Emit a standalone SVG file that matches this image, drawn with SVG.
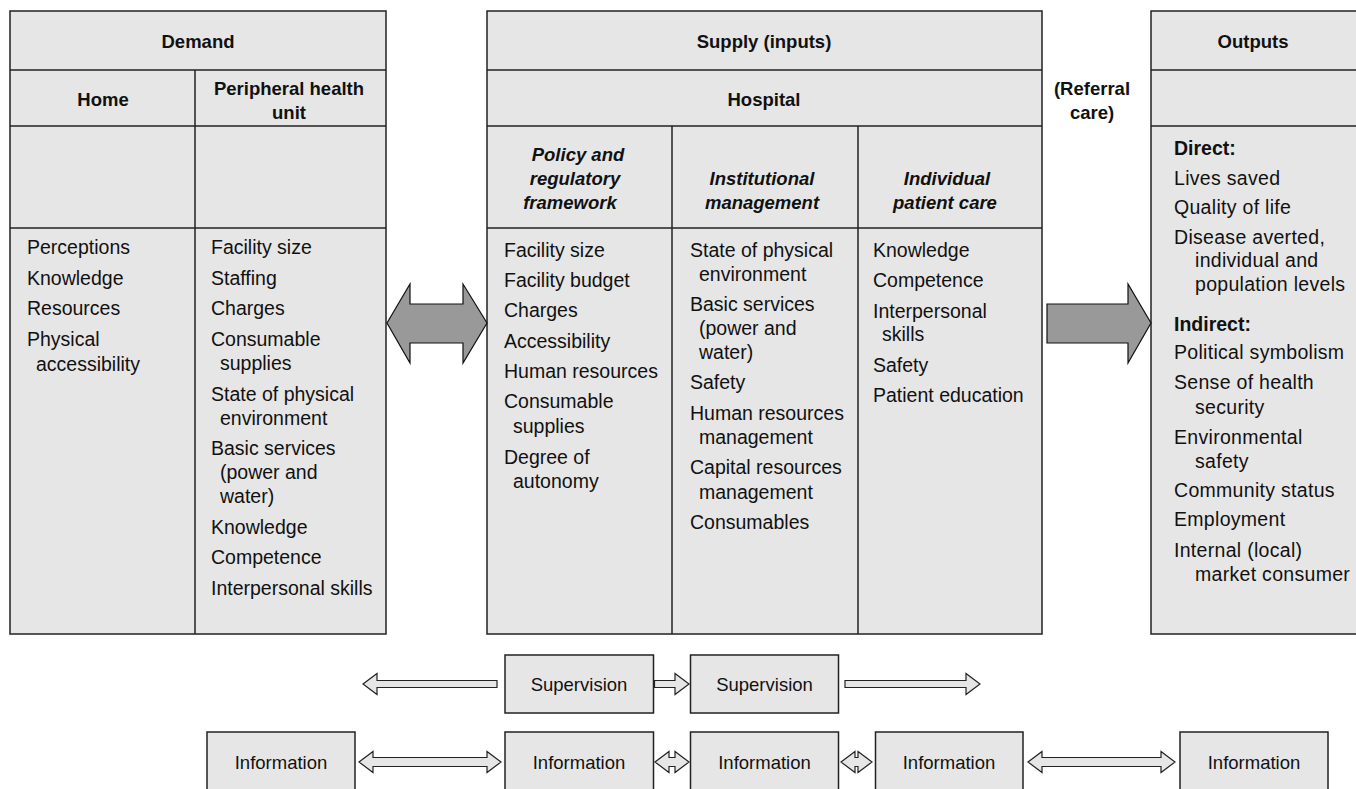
<svg xmlns="http://www.w3.org/2000/svg" width="1356" height="789" viewBox="0 0 1356 789">
<style>
text{font-family:"Liberation Sans",Arial,sans-serif;fill:#111}
.box{fill:#e6e6e6;stroke:#222;stroke-width:1.5}
.ln{stroke:#222;stroke-width:1.5;fill:none}
.h{font-size:18.5px;font-weight:bold;text-anchor:middle}
.hi{font-size:18.5px;font-weight:bold;font-style:italic;text-anchor:middle}
.t{font-size:19.5px}
.o{font-size:19.5px;letter-spacing:0.3px}
.ob{font-size:19.5px;font-weight:bold}
.c{font-size:18.5px;text-anchor:middle}
.big{fill:#999;stroke:#111;stroke-width:1.2}
.sm{fill:#e6e6e6;stroke:#222;stroke-width:1.2}
</style>
<rect width="1356" height="789" fill="#fff"/>
<g id="demand">
<rect class="box" x="10" y="11" width="376" height="623"/>
<line class="ln" x1="10" y1="70" x2="386" y2="70"/>
<line class="ln" x1="10" y1="126" x2="386" y2="126"/>
<line class="ln" x1="10" y1="228" x2="386" y2="228"/>
<line class="ln" x1="195" y1="70" x2="195" y2="634"/>
<text class="h" x="198" y="48">Demand</text>
<text class="h" x="103" y="106">Home</text>
<text class="h" x="289" y="95">Peripheral health</text>
<text class="h" x="289" y="119">unit</text>
<text class="t" x="27" y="254">Perceptions</text>
<text class="t" x="27" y="285">Knowledge</text>
<text class="t" x="27" y="315">Resources</text>
<text class="t" x="27" y="346">Physical</text>
<text class="t" x="36" y="371">accessibility</text>
<text class="t" x="211" y="254">Facility size</text>
<text class="t" x="211" y="285">Staffing</text>
<text class="t" x="211" y="315">Charges</text>
<text class="t" x="211" y="346">Consumable</text>
<text class="t" x="220" y="370">supplies</text>
<text class="t" x="211" y="401">State of physical</text>
<text class="t" x="220" y="425">environment</text>
<text class="t" x="211" y="455">Basic services</text>
<text class="t" x="220" y="479">(power and</text>
<text class="t" x="220" y="503">water)</text>
<text class="t" x="211" y="534">Knowledge</text>
<text class="t" x="211" y="564">Competence</text>
<text class="t" x="211" y="595">Interpersonal skills</text>
</g>
<g id="supply">
<rect class="box" x="487" y="11" width="555" height="623"/>
<line class="ln" x1="487" y1="70" x2="1042" y2="70"/>
<line class="ln" x1="487" y1="126" x2="1042" y2="126"/>
<line class="ln" x1="487" y1="228" x2="1042" y2="228"/>
<line class="ln" x1="672" y1="126" x2="672" y2="634"/>
<line class="ln" x1="858" y1="126" x2="858" y2="634"/>
<text class="h" x="764" y="48">Supply (inputs)</text>
<text class="h" x="764" y="106">Hospital</text>
<text class="hi" x="578" y="161">Policy and</text>
<text class="hi" x="575" y="185">regulatory</text>
<text class="hi" x="570" y="209">framework</text>
<text class="hi" x="762" y="185">Institutional</text>
<text class="hi" x="762" y="209">management</text>
<text class="hi" x="947" y="185">Individual</text>
<text class="hi" x="945" y="209">patient care</text>
<text class="t" x="504" y="257">Facility size</text>
<text class="t" x="504" y="287">Facility budget</text>
<text class="t" x="504" y="317">Charges</text>
<text class="t" x="504" y="348">Accessibility</text>
<text class="t" x="504" y="378">Human resources</text>
<text class="t" x="504" y="408">Consumable</text>
<text class="t" x="513" y="433">supplies</text>
<text class="t" x="504" y="464">Degree of</text>
<text class="t" x="513" y="488">autonomy</text>
<text class="t" x="690" y="257">State of physical</text>
<text class="t" x="699" y="281">environment</text>
<text class="t" x="690" y="311">Basic services</text>
<text class="t" x="699" y="335">(power and</text>
<text class="t" x="699" y="359">water)</text>
<text class="t" x="690" y="389">Safety</text>
<text class="t" x="690" y="420">Human resources</text>
<text class="t" x="699" y="444">management</text>
<text class="t" x="690" y="474">Capital resources</text>
<text class="t" x="699" y="499">management</text>
<text class="t" x="690" y="529">Consumables</text>
<text class="t" x="873" y="257">Knowledge</text>
<text class="t" x="873" y="287">Competence</text>
<text class="t" x="873" y="318">Interpersonal</text>
<text class="t" x="882" y="341">skills</text>
<text class="t" x="873" y="372">Safety</text>
<text class="t" x="873" y="402">Patient education</text>
</g>
<g id="referral">
<text class="h" x="1092" y="95">(Referral</text>
<text class="h" x="1092" y="119">care)</text>
</g>
<g id="outputs">
<rect class="box" x="1151" y="11" width="210" height="623"/>
<line class="ln" x1="1151" y1="70" x2="1356" y2="70"/>
<line class="ln" x1="1151" y1="126" x2="1356" y2="126"/>
<text class="h" x="1253" y="48">Outputs</text>
<text class="ob" x="1174" y="155">Direct:</text>
<text class="o" x="1174" y="185">Lives saved</text>
<text class="o" x="1174" y="214">Quality of life</text>
<text class="o" x="1174" y="244">Disease averted,</text>
<text class="o" x="1195" y="267">individual and</text>
<text class="o" x="1195" y="291">population levels</text>
<text class="ob" x="1174" y="331">Indirect:</text>
<text class="o" x="1174" y="359">Political symbolism</text>
<text class="o" x="1174" y="389">Sense of health</text>
<text class="o" x="1195" y="414">security</text>
<text class="o" x="1174" y="444">Environmental</text>
<text class="o" x="1195" y="468">safety</text>
<text class="o" x="1174" y="497">Community status</text>
<text class="o" x="1174" y="526">Employment</text>
<text class="o" x="1174" y="557">Internal (local)</text>
<text class="o" x="1195" y="581">market consumer</text>
</g>
<g id="supervision1">
<rect class="box" x="505" y="655" width="148.5" height="58"/>
<text class="c" x="579" y="691">Supervision</text>
</g>
<g id="supervision2">
<rect class="box" x="690.5" y="655" width="148" height="58"/>
<text class="c" x="764.5" y="691">Supervision</text>
</g>
<g id="information1">
<rect class="box" x="207" y="732" width="148" height="64"/>
<text class="c" x="281" y="769">Information</text>
</g>
<g id="information2">
<rect class="box" x="505" y="732" width="148.5" height="64"/>
<text class="c" x="579" y="769">Information</text>
</g>
<g id="information3">
<rect class="box" x="690.5" y="732" width="148" height="64"/>
<text class="c" x="764.5" y="769">Information</text>
</g>
<g id="information4">
<rect class="box" x="875.5" y="732" width="147.5" height="64"/>
<text class="c" x="949" y="769">Information</text>
</g>
<g id="information5">
<rect class="box" x="1180" y="732" width="148" height="64"/>
<text class="c" x="1254" y="769">Information</text>
</g>
<g id="connectors">
<polygon class="big" points="387,323 410,284 410,304 463,304 463,284 487,323 463,363 463,343 410,343 410,363"/>
<polygon class="big" points="1047,304 1128,304 1128,284 1151,323 1128,363 1128,343 1047,343"/>
<polygon class="sm" points="363,684 377,673.5 377,680.5 497,680.5 497,687.5 377,687.5 377,694.5"/>
<polygon class="sm" points="654.5,680.5 675,680.5 675,673.5 689,684 675,694.5 675,687.5 654.5,687.5"/>
<polygon class="sm" points="845,680.5 966,680.5 966,673.5 980,684 966,694.5 966,687.5 845,687.5"/>
<polygon class="sm" points="359,762 373,751.5 373,757.5 487,757.5 487,751.5 501,762 487,772.5 487,766.5 373,766.5 373,772.5"/>
<polygon class="sm" points="655,762 669,751.5 669,757.5 675,757.5 675,751.5 689,762 675,772.5 675,766.5 669,766.5 669,772.5"/>
<polygon class="sm" points="841,762 855,751.5 855,757.5 858,757.5 858,751.5 872,762 858,772.5 858,766.5 855,766.5 855,772.5"/>
<polygon class="sm" points="1028,762 1042,751.5 1042,757.5 1161,757.5 1161,751.5 1175,762 1161,772.5 1161,766.5 1042,766.5 1042,772.5"/>
</g>
</svg>
